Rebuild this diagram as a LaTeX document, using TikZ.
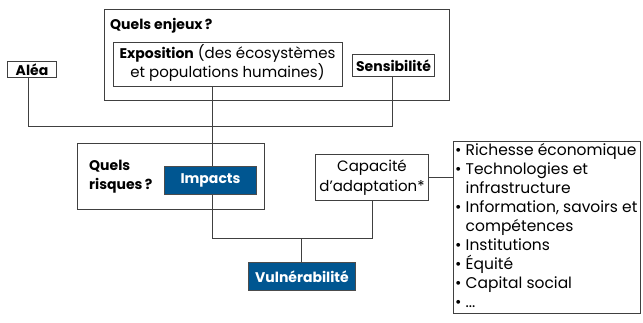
\documentclass[tikz,border=0pt]{standalone}
\usepackage{fontspec}
\setmainfont{Poppins}
\newcommand{\regf}{\fontsize{15}{19.5}\selectfont}
\newcommand{\boldf}{\bfseries\fontsize{14}{19}\selectfont}
\begin{document}
\begin{tikzpicture}[x=1pt,y=-1pt,
  line/.style={draw=black!75,line width=1pt},
  box/.style={draw=black!75,line width=1pt,fill=white,inner sep=0pt},
  bluebox/.style={draw=black!70,line width=1pt,fill=dkblue,text=white,font=\boldf,inner sep=0pt},
  lbl/.style={font=\regf,inner sep=0pt}]
\definecolor{dkblue}{RGB}{0,86,145}
\useasboundingbox (0,0) rectangle (643,323);
% outer groups
\node[box,minimum width=345pt,minimum height=91pt,anchor=north west] (enjeux) at (104,9) {};
\node[lbl,font=\boldf,anchor=west] (enjeuxt) at (110,26) {Quels enjeux\,?};
\node[box,minimum width=187pt,minimum height=66pt,anchor=north west] (risques) at (77,143) {};
\node[lbl,font=\boldf,align=left,anchor=west] (risquest) at (89,177) {Quels\\risques\,?};
% nodes
\node[box,minimum width=229pt,minimum height=44pt,anchor=north west] (expo) at (113,42) {};
\node[lbl,align=center] (expot) at (227.5,63) {{\boldf Exposition} (des écosystèmes\\et populations humaines)};
\node[box,minimum width=49pt,minimum height=16pt,anchor=north west,font=\boldf] (alea) at (7,61) {Aléa};
\node[box,minimum width=82pt,minimum height=22pt,anchor=north west,font=\boldf] (sensi) at (352,54) {Sensibilité};
\node[bluebox,minimum width=92pt,minimum height=28pt,anchor=north west] (impacts) at (164,166) {Impacts};
\node[box,minimum width=113pt,minimum height=46pt,anchor=north west,align=center,font=\regf] (capa) at (315,154) {Capacité\\d’adaptation*};
\node[bluebox,minimum width=107pt,minimum height=28pt,anchor=north west] (vuln) at (248,262) {Vulnérabilité};
\node[box,minimum width=187pt,minimum height=172pt,anchor=north west] (liste) at (453,141) {};
\node[lbl,anchor=north west,align=left,font=\fontsize{15.5}{19}\selectfont] (listet) at (455,143) {%
• Richesse économique\\
• Technologies et\\
\phantom{• }infrastructure\\
• Information, savoirs et\\
\phantom{• }compétences\\
• Institutions\\
• Équité\\
• Capital social\\
• ...};
% connectors
\coordinate (j1) at (28,127);
\coordinate (j2) at (392,127);
\coordinate (j3) at (212,127);
\coordinate (k1) at (212,239);
\coordinate (k2) at (372,239);
\coordinate (k3) at (301,239);
\draw[line] (alea.south -| j1) -- (j1) -- (j2) -- (sensi.south -| j2);
\draw[line] (expo.south -| j3) -- (impacts.north -| j3);
\draw[line] (impacts.south -| k1) -- (k1) -- (k2) -- (capa.south -| k2);
\draw[line] (k3) -- (vuln.north -| k3);
\draw[line] (capa.east) -- (capa.east -| liste.west);
\end{tikzpicture}
\end{document}
